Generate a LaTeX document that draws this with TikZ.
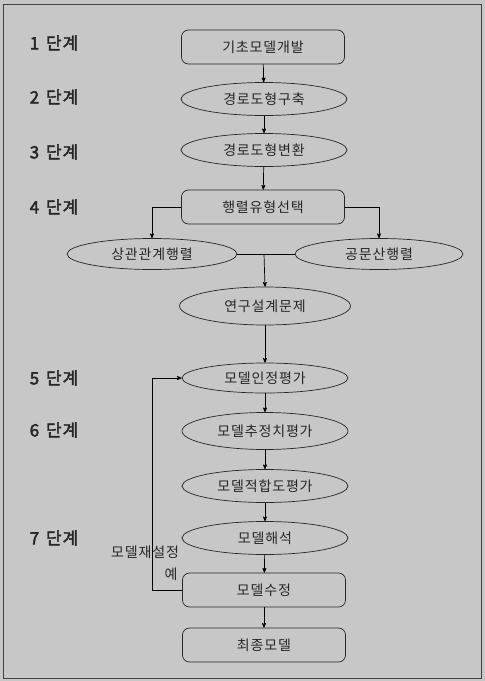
\documentclass[tikz,border=0pt]{standalone}
\usepackage{fontspec}
\usepackage{tikz}
\usetikzlibrary{arrows,shapes.geometric}
\newfontfamily\kr[AutoFakeBold=2.5,LetterSpace=6]{Noto Sans CJK KR}

\begin{document}
\begin{tikzpicture}[->,>=stealth',x=1pt,y=-1pt,line width=0.7pt,
    font=\kr\fontsize{14}{16}\selectfont]

        \tikzstyle{box}=[draw=black!85,text=black!85,rounded corners=7pt,minimum width=163pt,minimum height=34pt,inner sep=0pt]
        \tikzstyle{oval}=[draw=black!85,text=black!85,ellipse,minimum width=166pt,minimum height=33pt,inner sep=0pt]
        \tikzstyle{level}=[text=black!85,font=\kr\bfseries\fontsize{17}{19}\selectfont]
        \tikzstyle{note}=[text=black!85,inner sep=0pt]

        \useasboundingbox (0,0) rectangle (485,681);
        \fill[black!22] (0,0) rectangle (485,681);
        \draw[-,black!75] (3,4) rectangle (481,678);

        \node[level] (l1) at (54,43)  {1\hspace{0.4em}단계};
        \node[level] (l2) at (54,97)  {2\hspace{0.4em}단계};
        \node[level] (l3) at (54,152) {3\hspace{0.4em}단계};
        \node[level] (l4) at (54,207) {4\hspace{0.4em}단계};
        \node[level] (l5) at (54,378) {5\hspace{0.4em}단계};
        \node[level] (l6) at (54,430) {6\hspace{0.4em}단계};
        \node[level] (l7) at (54,538) {7\hspace{0.4em}단계};

        \node[box]  (n1)  at (263,47)  {기초모델개발};
        \node[oval] (n2)  at (264,99)  {경로도형구축};
        \node[oval] (n3)  at (264,150) {경로도형변환};
        \node[box]  (n4)  at (263,207) {행렬유형선택};
        \node[oval,minimum width=170pt,minimum height=31pt] (n5) at (152,254) {상관관계행렬};
        \node[oval,minimum width=168pt,minimum height=31pt] (n6) at (379,254) {공문산행렬};
        \node[oval,minimum width=171pt,minimum height=38pt] (n7) at (265,306) {연구설계문제};
        \node[oval,minimum height=30pt] (n8)  at (265,378) {모델인정평가};
        \node[oval,minimum height=37pt] (n9)  at (265,431) {모델추정치평가};
        \node[oval] (n10) at (265,486) {모델적합도평가};
        \node[oval] (n11) at (265,538) {모델해석};
        \node[box]  (n12) at (264,590) {모델수정};
        \node[box]  (n13) at (264,645) {최종모델};

        \node[note] (t1) at (145,552) {모델재설정};
        \node[note] (t2) at (171,574) {예};

        \coordinate (m)  at (264,254);
        \coordinate (fb) at (152,590);

        \path (n1) edge (n2)
              (n2) edge (n3)
              (n3) edge (n4)
              (n7) edge (n8)
              (n8) edge (n9)
              (n9) edge (n10)
              (n10) edge (n11)
              (n11) edge (n12)
              (n12) edge (n13);

        \draw (n4.west) -| (n5.north);
        \draw (n4.east) -| (n6.north);
        \draw[-] (n5.east) -- (m);
        \draw[-] (n6.west) -- (m);
        \draw (m) -- (n7.north);
        \draw (n12.west) -- (fb) |- (n8.west);
\end{tikzpicture}
\end{document}
